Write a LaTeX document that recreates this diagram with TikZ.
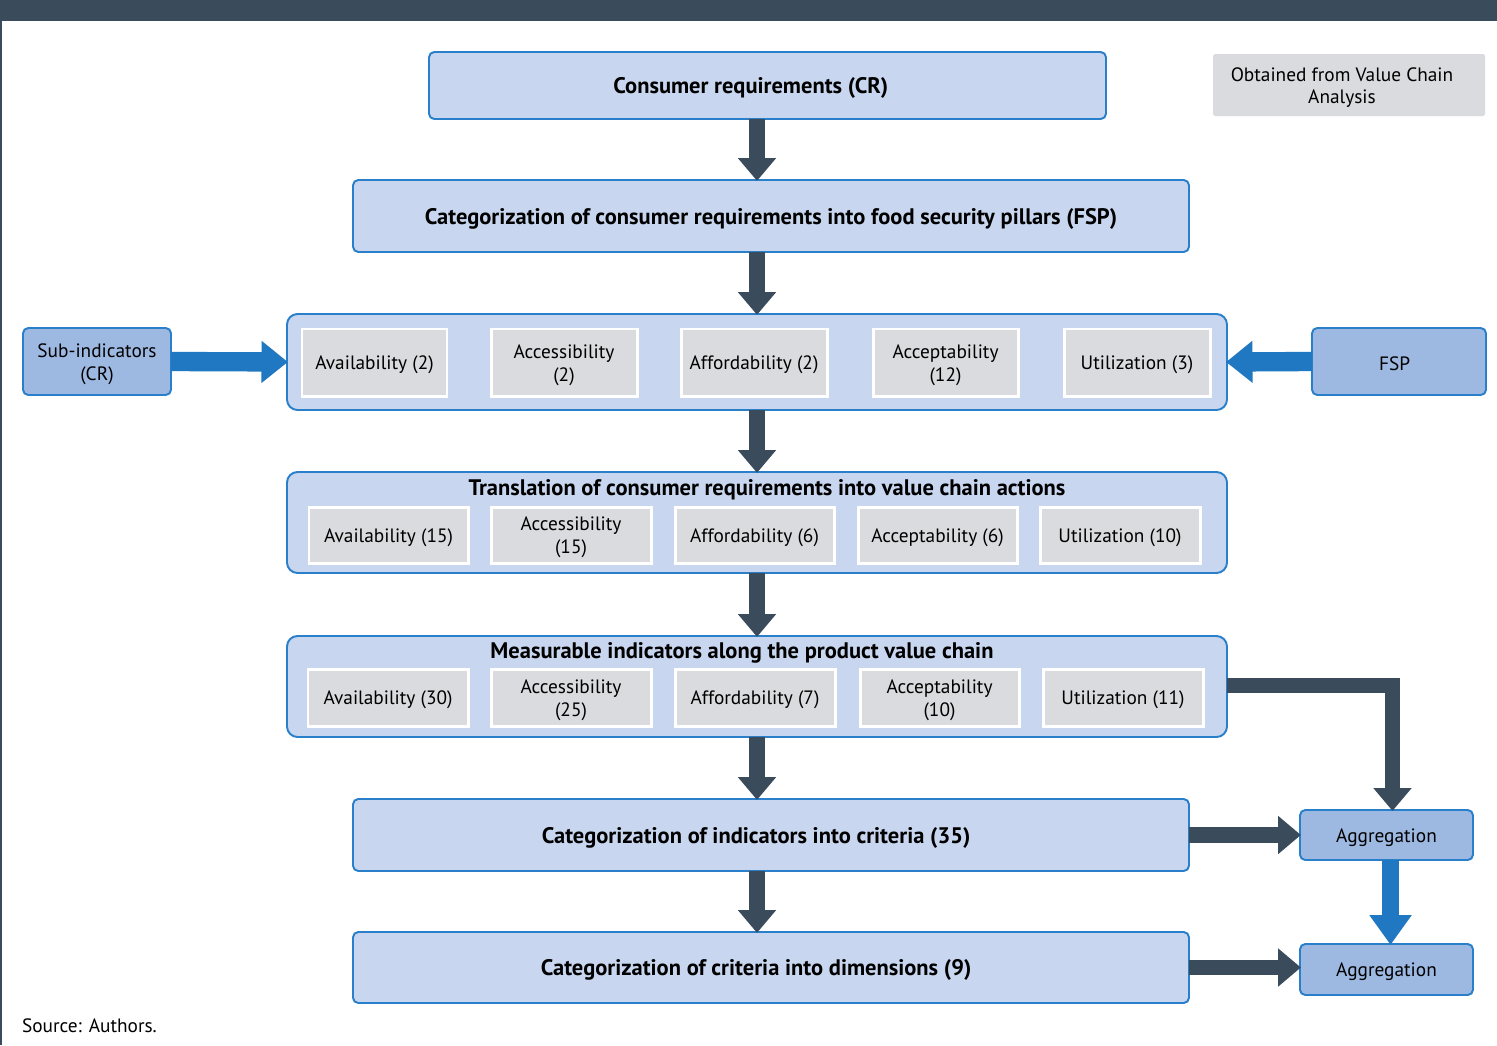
\documentclass[tikz,border=0pt]{standalone}
\usepackage{fontspec}
\setmainfont{PT Sans}
\usetikzlibrary{arrows.meta}
\definecolor{darkbar}{HTML}{3A4B5C}
\definecolor{bluearr}{HTML}{1F78C1}
\definecolor{boxfill}{HTML}{C8D7EF}
\definecolor{boxline}{HTML}{2A7FCB}
\definecolor{midfill}{HTML}{9DB9E2}
\definecolor{grayfill}{HTML}{DADBDE}
\newcommand\bx[8]{\node[#6, minimum width={(#4-#2)*0.02cm}, minimum height={(#5-#3)*0.02cm}] (#1) at ({(#2+#4)/2},{(#3+#5)/2}) {};
  \node[#7] (#1-t) at ([yshift=-1.5pt]#1.center) {#8};}
\newcommand\shp[6]{\node[#6, minimum width={(#4-#2)*0.02cm}, minimum height={(#5-#3)*0.02cm}] (#1) at ({(#2+#4)/2},{(#3+#5)/2}) {};}
\begin{document}
\begin{tikzpicture}[x=0.02cm,y=-0.02cm,
  every node/.style={font=\fontsize{11}{13}\selectfont, inner sep=0pt, outer sep=0pt, align=center, text=black},
  rt/.style={font=\fontsize{11}{13}\selectfont},
  bt/.style={font=\fontsize{12.8}{15}\selectfont\bfseries},
  mainbox/.style={draw=boxline, fill=boxfill, line width=1.1pt, rounded corners=3pt},
  container/.style={draw=boxline, fill=boxfill, line width=1.1pt, rounded corners=6pt},
  inbox/.style={draw=white, fill=grayfill, line width=1.7pt},
  midbox/.style={draw=boxline, fill=midfill, line width=1.1pt, rounded corners=3pt},
  notebox/.style={fill=grayfill, rounded corners=1pt},
  darr/.style={draw=darkbar, line width=9pt, -{Triangle[width=21pt,length=13pt]}, shorten >=-0.5pt},
  barr/.style={draw=bluearr, line width=11pt, -{Triangle[width=23pt,length=15pt]}, shorten >=-0.5pt},
  barrv/.style={draw=bluearr, line width=9.5pt, -{Triangle[width=23pt,length=17pt]}, shorten >=-0.5pt}]
\useasboundingbox (0,0) rectangle (1497,1045);
\fill[white] (0,0) rectangle (1497,1045);
\fill[darkbar] (0,0) rectangle (1497,21);
\fill[darkbar] (0,21) rectangle (2,1045);

% main boxes
\bx{cr}{429}{52}{1106}{119}{mainbox}{bt,xshift=-9.5pt}{Consumer requirements (CR)}
\bx{fspcat}{353}{180}{1189}{252}{mainbox}{bt}{Categorization of consumer requirements into food security pillars (FSP)}
\bx{note}{1213}{54}{1485}{116}{notebox}{rt,xshift=-4pt}{Obtained from Value Chain\\Analysis}

% pillars container
\shp{pil}{287}{314}{1227}{410}{container}
\bx{p1}{302}{329}{447}{396}{inbox}{rt}{Availability (2)}
\bx{p2}{491}{329}{637}{396}{inbox}{rt}{Accessibility\\(2)}
\bx{p3}{681}{329}{827}{396}{inbox}{rt}{Affordability (2)}
\bx{p4}{873}{329}{1018}{396}{inbox}{rt}{Acceptability\\(12)}
\bx{p5}{1064}{329}{1210}{396}{inbox}{rt}{Utilization (3)}
\bx{sub}{23}{328}{171}{395}{midbox}{rt}{Sub-indicators\\(CR)}
\bx{fsp}{1312}{328}{1486}{395}{midbox}{rt,xshift=-2.5pt}{FSP}

% translation container
\shp{tra}{287}{472}{1227}{573}{container}
\node[bt] (tratitle) at (767,490) {Translation of consumer requirements into value chain actions};
\bx{t1}{309}{507}{468}{563}{inbox}{rt}{Availability (15)}
\bx{t2}{491}{507}{651}{563}{inbox}{rt}{Accessibility\\(15)}
\bx{t3}{675}{507}{834}{563}{inbox}{rt}{Affordability (6)}
\bx{t4}{858}{507}{1017}{563}{inbox}{rt}{Acceptability (6)}
\bx{t5}{1040}{507}{1200}{563}{inbox}{rt}{Utilization (10)}

% measurable container
\shp{mea}{287}{636}{1227}{737}{container}
\node[bt] (meatitle) at (742,653) {Measurable indicators along the product value chain};
\bx{m1}{308}{669}{468}{726}{inbox}{rt}{Availability (30)}
\bx{m2}{491}{669}{651}{726}{inbox}{rt}{Accessibility\\(25)}
\bx{m3}{675}{669}{835}{726}{inbox}{rt}{Affordability (7)}
\bx{m4}{860}{669}{1019}{726}{inbox}{rt}{Acceptability\\(10)}
\bx{m5}{1043}{669}{1203}{726}{inbox}{rt}{Utilization (11)}

\bx{crit}{353}{799}{1189}{871}{mainbox}{bt,xshift=-8.5pt}{Categorization of indicators into criteria (35)}
\bx{dims}{353}{932}{1189}{1003}{mainbox}{bt,xshift=-8.5pt}{Categorization of criteria into dimensions (9)}
\bx{agg1}{1300}{810}{1473}{860}{midbox}{rt}{Aggregation}
\bx{agg2}{1300}{944}{1473}{995}{midbox}{rt}{Aggregation}

\node[anchor=west] (src) at (22,1026) {Source: Authors.};

% arrows
\draw[darr] (cr.south -| pil.north) -- (fspcat.north -| pil.north);
\draw[darr] (fspcat.south -| pil.north) -- (pil.north);
\draw[darr] (pil.south) -- (tra.north);
\draw[darr] (tra.south) -- (mea.north);
\draw[darr] (mea.south) -- (crit.north -| mea.south);
\draw[darr] (crit.south -| mea.south) -- (dims.north -| mea.south);
\draw[darr] ([yshift=0.6pt]mea.east) -| ([xshift=3.4pt]agg1.north);
\draw[darr] (crit.east) -- (agg1.west);
\draw[darr] (dims.east) -- (agg2.west |- dims.east);
\draw[barr] (sub.east) -- (pil.west);
\draw[barr] (fsp.west) -- (pil.east);
\draw[barrv] ([xshift=2.3pt]agg1.south) -- ([xshift=2.3pt]agg2.north);
\end{tikzpicture}
\end{document}
